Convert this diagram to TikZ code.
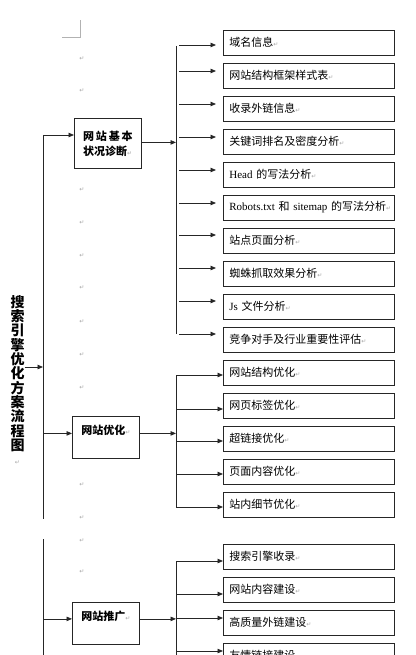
\documentclass[tikz,border=0pt]{standalone}
\usepackage{fontspec}
\setmainfont{Liberation Serif}
\newfontfamily\cjk{Noto Sans CJK SC}
\newfontfamily\lat{Liberation Serif}
\newfontfamily\symf{DejaVu Sans}
\usetikzlibrary{arrows.meta}
\newcommand{\retmark}{{\symf\mdseries\color{gray!70}\fontsize{6}{6}\selectfont ↵}}

\begin{document}
\begin{tikzpicture}[x=1pt, y=-1pt,
    line/.style={draw=black!85, line width=0.8pt},
    arr/.style={line, -{Triangle[length=5.5pt,width=4.5pt]}},
    item/.style={draw=black!85, line width=0.8pt, anchor=west, minimum width=171pt, minimum height=25pt,
        text width=159pt, inner xsep=6pt, inner ysep=0pt, align=left, font=\cjk\fontsize{11}{13}\selectfont},
    stage/.style={draw=black!85, line width=0.8pt, anchor=north west, minimum width=67pt, align=left,
        inner ysep=0pt, font=\cjk\bfseries\fontsize{11}{15}\selectfont},
    title/.style={inner sep=0pt, align=center, font=\cjk\bfseries\fontsize{14}{14.3}\selectfont},
    pmk/.style={inner sep=0pt, font=\symf\fontsize{6}{6}\selectfont, text=gray!70}]

    \useasboundingbox (0,0) rectangle (415,655);

    % crop mark and paragraph marks
    \draw[gray!60, line width=0.6pt] (62,37) -- (80,37) -- (80,20);
    \foreach \y [count=\k] in {59,91,190,223,256,288,322,355,388,485,518,541,572}
        \node[pmk] (p\k) at (82,\y) {↵};

    % title
    \node[title] (title) at (17.5,380) {搜\\索\\引\\擎\\优\\化\\方\\案\\流\\程\\图\\\retmark};

    % stages
    \node[stage, minimum height=50pt] (s1) at (74,118) {网\,站\,基\,本\\状况诊断\retmark};
    \node[stage, text height=18pt, text depth=24pt] (s2) at (72,416) {网站优化\retmark};
    \node[stage, text height=18pt, text depth=24pt] (s3) at (72,602) {网站推广\retmark};

    % trunk
    \coordinate (tr) at (43,135);
    \coordinate (gapa) at (43,519);
    \coordinate (gapb) at (43,539);
    \coordinate (trend) at (43,660);
    \draw[line] (tr) -- (gapa);
    \draw[line] (gapb) -- (trend);
    \coordinate (tin) at ([shift={(0,-13)}]title.east);
    \draw[arr] (tin) -- (tin -| tr);
    \draw[arr] (tr) -- (tr -| s1.west);
    \coordinate (in2) at ([shift={(0,-4)}]s2.west);
    \draw[arr] (in2 -| tr) -- (in2);
    \coordinate (in3) at ([shift={(0,-4.5)}]s3.west);
    \draw[arr] (in3 -| tr) -- (in3);

    % branches
    \coordinate (b1) at (176,0);
    \coordinate (out1) at ([shift={(0,-1)}]s1.east);
    \draw[arr] (out1) -- (out1 -| b1);
    \draw[arr] (in2 -| s2.east) -- (in2 -| b1);
    \draw[arr] (in3 -| s3.east) -- (in3 -| b1);

    % group 1
    \foreach \i/\s/\t in {1/2.5/域名信息, 2/-4.5/网站结构框架样式表, 3/-4.5/收录外链信息,
        4/-4.5/关键词排名及密度分析, 5/-4.5/{\lat Head} 的写法分析,
        6/-4.5/{\lat Robots.txt} 和 {\lat sitemap} 的写法分析, 7/-5.5/站点页面分析,
        8/-5.5/蜘蛛抓取效果分析, 9/-5.5/{\lat Js} 文件分析, 10/-5.5/竞争对手及行业重要性评估} {
        \node[item] (a\i) at (223,{42.5+33*(\i-1)}) {\t\rlap{\retmark}};
        \coordinate (t\i) at ([shift={(0,\s)}]a\i.west);
        \draw[arr, shorten <=3pt, shorten >=7pt] (t\i -| b1) -- (t\i);
    }
    \draw[line] ([shift={(0,1)}]t1 -| b1) -- (t10 -| b1);

    % group 2
    \foreach \i/\s/\t in {11/2.5/网站结构优化, 12/3.5/网页标签优化, 13/2.5/超链接优化,
        14/2.5/页面内容优化, 15/2.5/站内细节优化} {
        \node[item] (a\i) at (223,{372.5+33*(\i-11)}) {\t\rlap{\retmark}};
        \coordinate (t\i) at ([shift={(0,\s)}]a\i.west);
        \draw[arr] (t\i -| b1) -- (t\i);
    }
    \draw[line] (t11 -| b1) -- (t15 -| b1);

    % group 3
    \foreach \i/\s/\t in {16/4.5/搜索引擎收录, 17/4.5/网站内容建设, 18/-4.5/高质量外链建设,
        19/-4.5/友情链接建设} {
        \node[item] (a\i) at (223,{556.5+33*(\i-16)}) {\t\rlap{\retmark}};
        \coordinate (t\i) at ([shift={(0,\s)}]a\i.west);
        \draw[arr] (t\i -| b1) -- (t\i);
    }
    \draw[line] (t16 -| b1) -- (b1 |- trend);
\end{tikzpicture}
\end{document}
